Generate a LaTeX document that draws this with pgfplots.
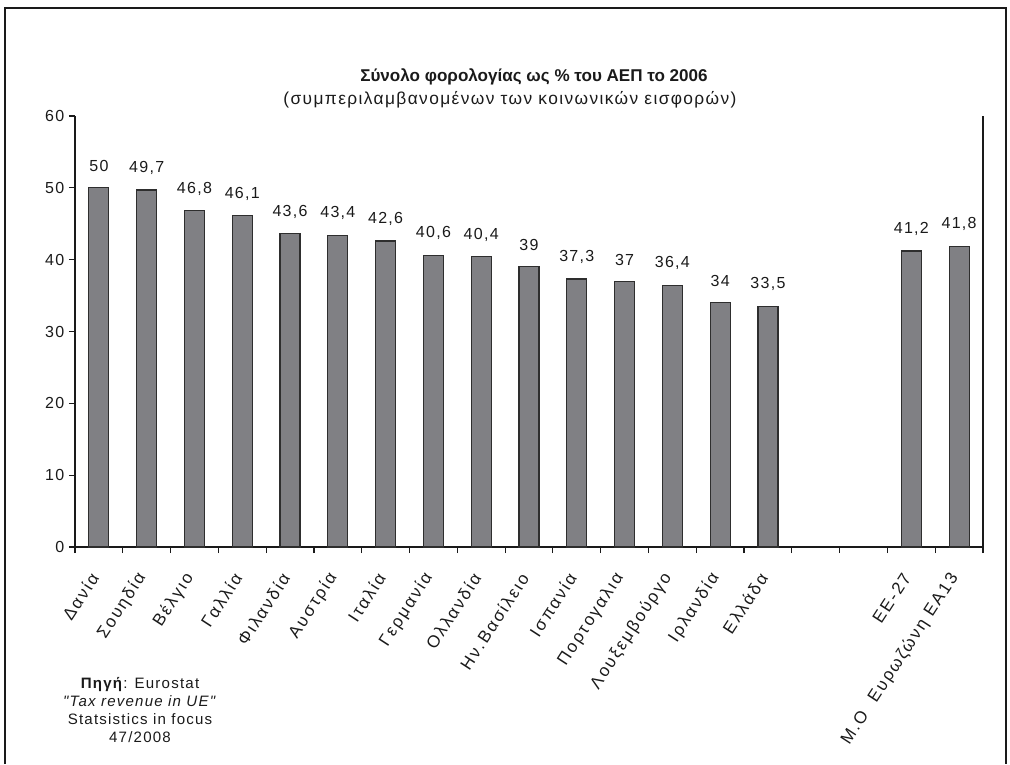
\documentclass[border=0pt]{standalone}
\usepackage{pgfplots}
\pgfplotsset{compat=1.18}
\usepackage{fontspec}
\setmainfont{Liberation Sans}
\newfontfamily\spaced[LetterSpace=8]{Liberation Sans}
\newfontfamily\spacedw[LetterSpace=12]{Liberation Sans}
\definecolor{barfill}{HTML}{808084}
\definecolor{baredge}{HTML}{2E2E2E}
\definecolor{ink}{HTML}{1A1A1A}

\begin{document}
\begin{tikzpicture}
\path[use as bounding box] (0pt,0pt) rectangle (757.5pt,-573pt);
\draw[line width=1pt, ink] (3.75pt,-573pt) -- (3.75pt,-6pt) -- (754.5pt,-6pt) -- (754.5pt,-573pt);

\begin{axis}[
    at={(56.25pt,-410.25pt)}, anchor=south west,
    scale only axis, width=681pt, height=323.25pt,
    xmin=-0.5, xmax=18.5, ymin=0, ymax=60,
    ytick={0,10,...,60},
    xtick={-0.5,0.5,...,18.5}, xticklabels={},
    extra x ticks={0,...,14,17,18},
    extra x tick labels={Δανία,Σουηδία,Βέλγιο,Γαλλία,Φιλανδία,Αυστρία,Ιταλία,Γερμανία,Ολλανδία,Ην.Βασίλειο,Ισπανία,Πορτογαλια,Λουξεμβούργο,Ιρλανδία,Ελλάδα,ΕΕ-27,Μ.Ο\ \ Ευρωζώνη ΕΑ13},
    extra x tick style={major tick length=0pt,
        tick label style={yshift=-18pt, xshift=-1.5pt, rotate=57, anchor=east,
            font=\spacedw\fontsize{12.8}{15}\selectfont}},
    axis x line*=bottom, axis y line*=left,
    axis line style={ink, line width=1pt, -},
    tick style={ink, line width=0.9pt},
    tick align=outside, major tick length=4.5pt,
    /pgf/number format/assume math mode=true,
    tick label style={text=ink, font=\spaced\fontsize{12}{14}\selectfont},
    clip=false,
]
\addplot[ybar, bar width=15pt, fill=barfill, draw=baredge, line width=0.9pt,
    nodes near coords, point meta=explicit symbolic,
    nodes near coords style={font=\spaced\fontsize{12}{14}\selectfont, text=ink, anchor=south, yshift=8pt}]
    table[meta=label] {
x   y     label
0   50    50
1   49.7  49,7
2   46.8  46,8
3   46.1  46,1
4   43.6  43,6
5   43.4  43,4
6   42.6  42,6
7   40.6  40,6
8   40.4  40,4
9   39    39
10  37.3  37,3
11  37    37
12  36.4  36,4
13  34    34
14  33.5  33,5
17  41.2  41,2
18  41.8  41,8
};
\draw[ink, line width=1pt] (rel axis cs:1,0) -- (rel axis cs:1,1);
\end{axis}

\node[font=\bfseries\fontsize{12.8}{15}\selectfont, text=ink] at (400.5pt,-57.75pt)
    {Σύνολο φορολογίας ως \% του ΑΕΠ το 2006};
\node[font=\spaced\fontsize{13}{15}\selectfont, text=ink] at (382.5pt,-75pt)
    {(συμπεριλαμβανομένων των κοινωνικών εισφορών)};
\node[align=center, text=ink, font=\spaced\fontsize{11.3}{13.5}\selectfont] at (105pt,-532.5pt)
    {\textbf{Πηγή}: Eurostat\\ \textit{"Tax revenue in UE"}\\ Statsistics in focus\\ 47/2008};
\end{tikzpicture}
\end{document}
